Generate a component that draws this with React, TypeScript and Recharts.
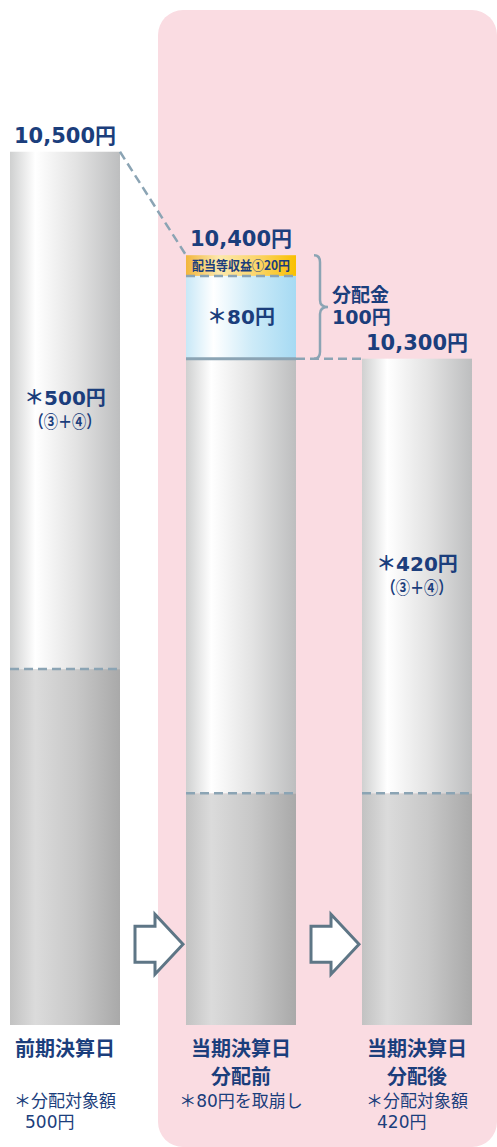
import React from 'react';
import { BarChart, Bar, XAxis, YAxis } from 'recharts';

const categories = ['前期決算日', '当期決算日 分配前', '当期決算日 分配後'];
const navValues = [10500, 10400, 10300];
const baseValues = [10000, 9880, 9880];
const distributableValues = [500, 420, 420];
const reserveValues = [0, 80, 0];
const incomeValues = [0, 20, 0];

const dateLines = [['前期決算日'], ['当期決算日', '分配前'], ['当期決算日', '分配後']];
const noteLines = [['＊分配対象額', '500円'], ['＊80円を取崩し'], ['＊分配対象額', '420円']];
const distributableLabels = ['＊500円', '', '＊420円'];
const sourceLabel = '（③＋④）';
const reserveLabel = '＊80円';
const incomeLabel = '配当等収益①20円';
const payoutLabel = ['分配金', '100円'];

const NAVY = '#1b3e7c';
const LINE = '#8ba4b4';
const JP = "'Noto Sans CJK JP', sans-serif";
const NUM = "'DejaVu Sans', 'Noto Sans CJK JP', sans-serif";
const DASH = '9 5';

const BAND = 176;
const BAR = 110;
const Y_DOMAIN = [9656, 10550];
const ARROW_LEVEL = 9734;

const data = categories.map((name, i) => ({
  name,
  i,
  base: baseValues[i],
  distributable: distributableValues[i],
  reserve: reserveValues[i],
  income: incomeValues[i],
}));

const fmt = (v: number) => v.toLocaleString('en-US') + '円';

const TotalText = ({ x, y, i }: { x: number; y: number; i: number }) => (
  <text x={x} y={y - 9} textAnchor="middle" fill={NAVY} fontFamily={NUM} fontWeight="bold" fontSize={21}>
    {fmt(navValues[i])}
  </text>
);

const Arrow = ({ cx, cy }: { cx: number; cy: number }) => {
  const pts = [[-24, -18], [-4, -18], [-4, -30], [24, 0], [-4, 30], [-4, 18], [-24, 18]]
    .map(([dx, dy]) => `${cx + dx},${cy + dy}`).join(' ');
  return <polygon points={pts} fill="#fff" stroke="#5e7686" strokeWidth={3} />;
};

const BaseShape = (p: any) => {
  const { x, y, width, height, payload } = p;
  // the gray block is drawn from the bottom of the value axis
  const k = height / (payload.base - Y_DOMAIN[0]);
  return (
    <g>
      <rect x={x} y={y} width={width} height={height} fill="url(#gGray)" />
      {payload.i < categories.length - 1 && (
        <Arrow cx={x + width + 39} cy={y + (payload.base - ARROW_LEVEL) * k} />
      )}
    </g>
  );
};

const DistShape = (p: any) => {
  const { x, y, width, height, payload } = p;
  const i = payload.i;
  const k = height / payload.distributable;
  const isTop = !payload.reserve && !payload.income;
  const my = y + height / 2;
  const label = distributableLabels[i];
  return (
    <g>
      <rect x={x} y={y} width={width} height={height} fill="url(#gWhite)" />
      <line x1={x} x2={x + width} y1={y + height} y2={y + height} stroke={LINE} strokeWidth={2.5} strokeDasharray={DASH} />
      {label && (
        <g fill={NAVY} fontWeight="bold" textAnchor="middle">
          <text x={x + width / 2} y={my - 12} dy="0.35em" fontSize={20} fontFamily={NUM}>{label}</text>
          <text x={x + width / 2} y={my + 12} dy="0.35em" fontSize={17} fontFamily={JP} textLength={71} lengthAdjust="spacingAndGlyphs">{sourceLabel}</text>
        </g>
      )}
      {isTop && <TotalText x={x + width / 2} y={y} i={i} />}
      {isTop && i < categories.length - 1 && (
        <line x1={x + width} y1={y} x2={x + BAND} y2={y + (navValues[i] - navValues[i + 1]) * k}
          stroke={LINE} strokeWidth={2.5} strokeDasharray={DASH} />
      )}
    </g>
  );
};

const ReserveShape = (p: any) => {
  const { x, y, width, height, payload } = p;
  if (!payload.reserve) return <g />;
  const i = payload.i;
  const k = height / payload.reserve;
  const low = y + height;
  const top = y - payload.income * k;
  const bl = x + width + 18;
  const br = x + width + 32;
  const bm = bl + 6;
  const ym = (top + low) / 2;
  const r = 7;
  const d = `M${bl},${top} Q${bm},${top} ${bm},${top + r} L${bm},${ym - r} Q${bm},${ym} ${br},${ym} Q${bm},${ym} ${bm},${ym + r} L${bm},${low - r} Q${bm},${low} ${bl},${low}`;
  const nextY = i < categories.length - 1 ? low + (navValues[i] - payload.income - payload.reserve - navValues[i + 1]) * k : low;
  return (
    <g>
      <rect x={x} y={y} width={width} height={height} fill="url(#gBlue)" />
      <line x1={x} x2={x + width} y1={low} y2={low} stroke={LINE} strokeWidth={3} />
      {i < categories.length - 1 && (
        <line x1={x + width} x2={x + BAND} y1={low} y2={nextY} stroke={LINE} strokeWidth={2.5} strokeDasharray={DASH} />
      )}
      <text x={x + width / 2} y={y + height / 2} dy="0.35em" textAnchor="middle" fill={NAVY} fontFamily={NUM} fontWeight="bold" fontSize={20}>
        {reserveLabel}
      </text>
      <path d={d} fill="none" stroke={LINE} strokeWidth={2.5} />
      <text x={br + 4} y={ym - 12} dy="0.35em" fill={NAVY} fontFamily={JP} fontWeight="bold" fontSize={19}>{payoutLabel[0]}</text>
      <text x={br + 4} y={ym + 10} dy="0.35em" fill={NAVY} fontFamily={NUM} fontWeight="bold" fontSize={19}>{payoutLabel[1]}</text>
    </g>
  );
};

const IncomeShape = (p: any) => {
  const { x, y, width, height, payload } = p;
  if (!payload.income) return <g />;
  return (
    <g>
      <rect x={x} y={y} width={width} height={height} fill="url(#gYellow)" />
      <line x1={x} x2={x + width} y1={y + height} y2={y + height} stroke={LINE} strokeWidth={2.5} strokeDasharray={DASH} />
      <text x={x + width / 2} y={y + height / 2} dy="0.35em" textAnchor="middle" fill={NAVY} fontFamily={JP} fontWeight="bold" fontSize={13} textLength={98} lengthAdjust="spacingAndGlyphs">
        {incomeLabel}
      </text>
      <TotalText x={x + width / 2} y={y} i={payload.i} />
    </g>
  );
};

const CategoryTick = (p: any) => {
  const i = categories.indexOf(p.payload.value);
  const { x, y } = p;
  const notes = noteLines[i];
  return (
    <g fill={NAVY}>
      {dateLines[i].map((t, k) => (
        <text key={k} x={x} y={y + 24 + k * 28} dy="0.35em" textAnchor="middle" fontFamily={JP} fontWeight="bold" fontSize={20}>{t}</text>
      ))}
      <text x={x} y={y + 76} dy="0.35em" textAnchor="middle" fontFamily={NUM} fontSize={17}>{notes[0]}</text>
      {notes[1] && (
        <text x={x - 40} y={y + 97} dy="0.35em" textAnchor="start" fontFamily={NUM} fontSize={17}>{notes[1]}</text>
      )}
    </g>
  );
};

const grad = (id: string, stops: [string, string][]) => (
  <linearGradient id={id} x1="0" y1="0" x2="1" y2="0">
    {stops.map(([o, c]) => <stop key={o} offset={o} stopColor={c} />)}
  </linearGradient>
);

export default function App() {
  return (
    <div style={{ position: 'absolute', left: 0, top: 0, width: 497, height: 1147, overflow: 'hidden', background: '#fff' }}>
      <div style={{ position: 'absolute', left: 158, top: 10, width: 339, height: 1137, borderRadius: 25, background: '#fadce2' }} />
      <div style={{ position: 'absolute', left: 65 - BAND / 2, top: 0 }}>
        <BarChart width={BAND * 3} height={1147} data={data} margin={{ top: 100, right: 0, bottom: 0, left: 0 }} barSize={BAR}>
          <defs>
            {grad('gWhite', [['0', '#cfd0d0'], ['0.23', '#ffffff'], ['0.6', '#e3e3e3'], ['1', '#bdbebf']])}
            {grad('gGray', [['0', '#c2c2c2'], ['0.23', '#dbdbdb'], ['0.6', '#c8c8c8'], ['1', '#a9a9a9']])}
            {grad('gBlue', [['0', '#c8e8f7'], ['0.25', '#ffffff'], ['0.6', '#cdebf8'], ['1', '#a6daf3']])}
            {grad('gYellow', [['0', '#f2b63c'], ['0.3', '#fce9ad'], ['0.65', '#fbd56a'], ['1', '#f9c000']])}
          </defs>
          <XAxis dataKey="name" height={122} axisLine={false} tickLine={false} tickSize={0} tickMargin={0} interval={0} tick={CategoryTick} />
          <YAxis hide domain={Y_DOMAIN} allowDataOverflow />
          <Bar dataKey="base" stackId="nav" shape={BaseShape} isAnimationActive={false} />
          <Bar dataKey="distributable" stackId="nav" shape={DistShape} isAnimationActive={false} />
          <Bar dataKey="reserve" stackId="nav" shape={ReserveShape} isAnimationActive={false} />
          <Bar dataKey="income" stackId="nav" shape={IncomeShape} isAnimationActive={false} />
        </BarChart>
      </div>
    </div>
  );
}
